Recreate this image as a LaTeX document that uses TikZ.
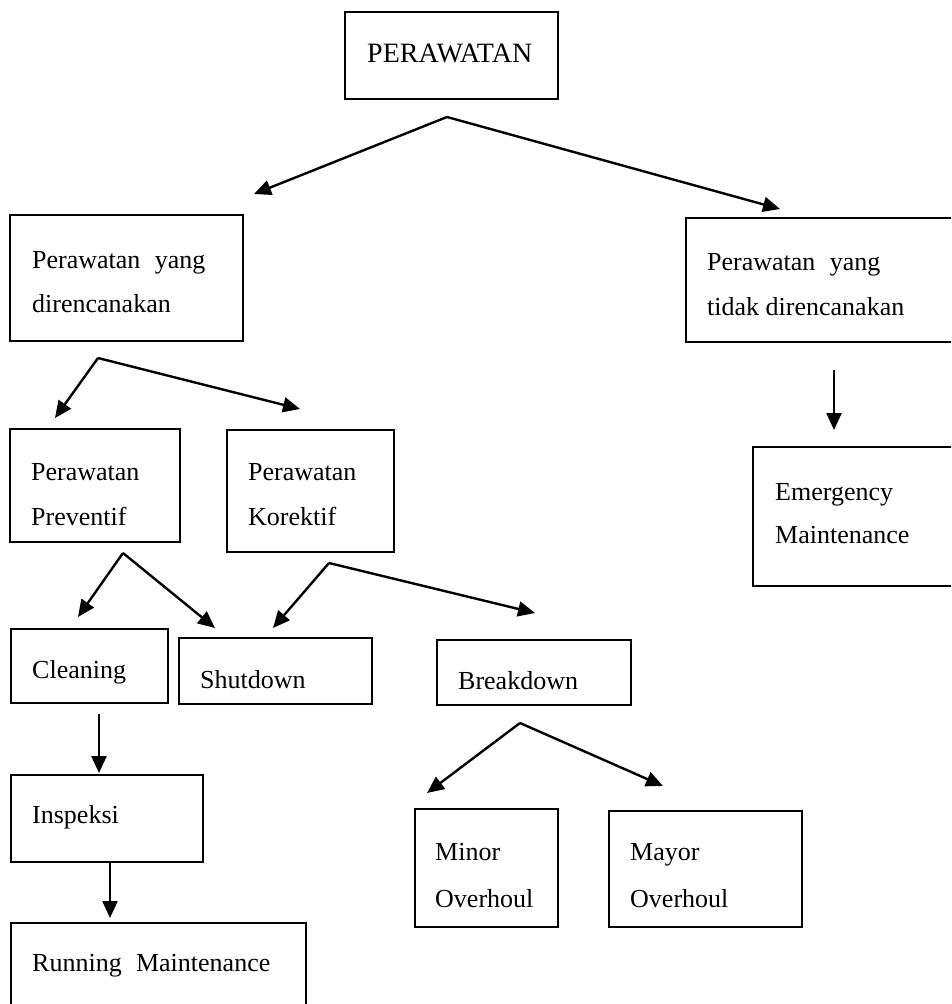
\documentclass[tikz,border=0pt]{standalone}
\usepackage{fontspec}
\setmainfont{Liberation Serif}
\usetikzlibrary{arrows.meta}
\begin{document}
\begin{tikzpicture}[x=1pt,y=-1pt,
  box/.style={draw, line width=1.8pt, inner sep=0pt},
  txt/.style={anchor=base west, inner sep=0pt, font=\fontsize{26}{44}\selectfont},
  arr/.style={line width=2.4pt, -{Triangle[length=17pt,width=15pt]}}]
\useasboundingbox (0,0) rectangle (951,1004);
\clip (0,0) rectangle (951,1004);
% boxes
\node[box, minimum width=213pt, minimum height=87pt] (top) at (451.5,55.5) {};
\node[box, minimum width=233pt, minimum height=126pt] (plan) at (126.5,278) {};
\node[box, minimum width=274pt, minimum height=124pt] (unplan) at (823,280) {};
\node[box, minimum width=207pt, minimum height=139pt] (emerg) at (856.5,516.5) {};
\node[box, minimum width=170pt, minimum height=113pt] (prev) at (95,485.5) {};
\node[box, minimum width=167pt, minimum height=122pt] (kor) at (310.5,491) {};
\node[box, minimum width=157pt, minimum height=74pt] (clean) at (89.5,666) {};
\node[box, minimum width=193pt, minimum height=66pt] (shut) at (275.5,671) {};
\node[box, minimum width=194pt, minimum height=65pt] (brk) at (534,672.5) {};
\node[box, minimum width=192pt, minimum height=87pt] (insp) at (107,818.5) {};
\node[box, minimum width=295pt, minimum height=100pt] (run) at (158.5,973) {};
\node[box, minimum width=143pt, minimum height=118pt] (minor) at (486.5,868) {};
\node[box, minimum width=193pt, minimum height=116pt] (mayor) at (705.5,869) {};
% texts
\node[txt, font=\fontsize{28}{44}\selectfont] (ttop) at (367,62) {PERAWATAN};
\node[txt] (tplan1) at (32,268) {Perawatan\hspace{0.3em} yang};
\node[txt] (tplan2) at (32,312) {direncanakan};
\node[txt] (tun1) at (707,270) {Perawatan\hspace{0.3em} yang};
\node[txt] (tun2) at (707,315) {tidak direncanakan};
\node[txt] (tem1) at (775,500) {Emergency};
\node[txt] (tem2) at (775,543) {Maintenance};
\node[txt] (tpr1) at (31,480) {Perawatan};
\node[txt] (tpr2) at (31,525) {Preventif};
\node[txt] (tko1) at (248,480) {Perawatan};
\node[txt] (tko2) at (248,525) {Korektif};
\node[txt] (tcl) at (32,678) {Cleaning};
\node[txt] (tsh) at (200,688) {Shutdown};
\node[txt] (tbr) at (458,689) {Breakdown};
\node[txt] (tin) at (32,823) {Inspeksi};
\node[txt] (tru) at (32,971) {Running\hspace{0.3em} Maintenance};
\node[txt] (tmi1) at (435,860) {Minor};
\node[txt] (tmi2) at (435,907) {Overhoul};
\node[txt] (tma1) at (630,860) {Mayor};
\node[txt] (tma2) at (630,907) {Overhoul};
% connector points
\coordinate (a1) at (447,117);
\coordinate (a1l) at (254,194);
\coordinate (a1r) at (780,209);
\coordinate (a2) at (98,358);
\coordinate (a2l) at (55,418);
\coordinate (a2r) at (300,409);
\coordinate (a3) at (123,553);
\coordinate (a3l) at (78,617);
\coordinate (a3r) at (215,628);
\coordinate (a4) at (329,563);
\coordinate (a4l) at (273,628);
\coordinate (a4r) at (535,613);
\coordinate (a5) at (520,723);
\coordinate (a5l) at (427,793);
\coordinate (a5r) at (663,786);
\coordinate (d1s) at (834,370);
\coordinate (d1e) at (834,430);
\coordinate (d2s) at (99,714);
\coordinate (d2e) at (99,773);
\coordinate (d3s) at (110,862);
\coordinate (d3e) at (110,918);
% connectors
\draw[arr] (a1) -- (a1l);
\draw[arr] (a1) -- (a1r);
\draw[arr] (a2) -- (a2l);
\draw[arr] (a2) -- (a2r);
\draw[arr] (a3) -- (a3l);
\draw[arr] (a3) -- (a3r);
\draw[arr] (a4) -- (a4l);
\draw[arr] (a4) -- (a4r);
\draw[arr] (a5) -- (a5l);
\draw[arr] (a5) -- (a5r);
\draw[arr] (d1s) -- (d1e);
\draw[arr] (d2s) -- (d2e);
\draw[arr] (d3s) -- (d3e);
\end{tikzpicture}
\end{document}
